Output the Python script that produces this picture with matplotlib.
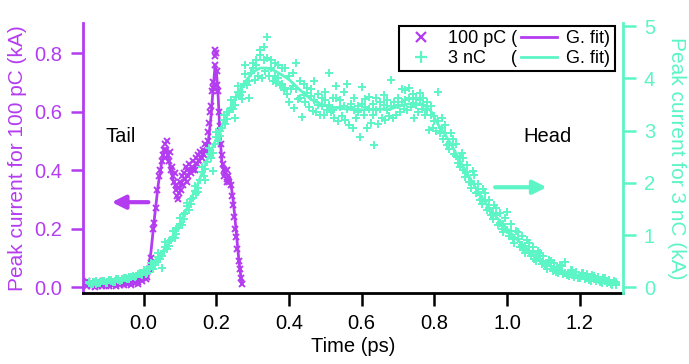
import matplotlib
matplotlib.use("Agg")
import matplotlib.pyplot as plt
from matplotlib.lines import Line2D

plt.rcParams['font.family'] = ['Liberation Sans', 'DejaVu Sans']

PURPLE = '#B43CF0'
GREEN = '#5CF5C5'

# ---------------- 100 pC data (left axis, kA) ----------------
p_x = [-0.155, -0.155, -0.155, -0.145, -0.145, -0.145, -0.135, -0.135, -0.135, -0.125,
       -0.125, -0.125, -0.115, -0.115, -0.115, -0.105, -0.105, -0.105, -0.095, -0.095,
       -0.095, -0.085, -0.085, -0.085, -0.075, -0.075, -0.075, -0.065, -0.065, -0.065,
       -0.055, -0.055, -0.055, -0.045, -0.045, -0.045, -0.035, -0.035, -0.035, -0.025,
       -0.025, -0.025, -0.015, -0.015, -0.015, -0.005, -0.005, -0.005, 0.005, 0.005,
       0.005, 0.010, 0.010,
       0.015, 0.020, 0.025, 0.028, 0.033, 0.038, 0.042, 0.046, 0.050, 0.053,
       0.056, 0.060, 0.062, 0.064, 0.066, 0.070, 0.072, 0.075, 0.078, 0.080,
       0.083, 0.085, 0.088, 0.090, 0.092, 0.095, 0.098, 0.100, 0.103, 0.106,
       0.108, 0.110, 0.113, 0.116, 0.118, 0.120, 0.123, 0.126, 0.130, 0.133,
       0.136, 0.140, 0.143, 0.146, 0.150, 0.153, 0.156, 0.160, 0.163, 0.166,
       0.170, 0.173, 0.176, 0.178, 0.180, 0.183, 0.185, 0.188, 0.190, 0.192,
       0.195, 0.197, 0.199, 0.201, 0.203, 0.205, 0.207, 0.210, 0.212, 0.215,
       0.217, 0.220, 0.222, 0.225, 0.228, 0.230, 0.233, 0.236, 0.240, 0.243,
       0.246, 0.249, 0.252, 0.255, 0.258, 0.261, 0.264, 0.267, 0.270,
       0.197, 0.058, 0.094, 0.228, 0.171, 0.137]
p_y = [0.004, 0.012, 0.020, 0.002, 0.010, 0.016, 0.006, 0.014, 0.000, 0.004,
       0.011, 0.019, 0.008, 0.015, 0.002, 0.005, 0.013, 0.021, 0.009, 0.017,
       0.003, 0.006, 0.014, 0.022, 0.010, 0.018, 0.004, 0.008, 0.016, 0.024,
       0.012, 0.020, 0.006, 0.010, 0.019, 0.027, 0.014, 0.022, 0.008, 0.013,
       0.024, 0.032, 0.018, 0.028, 0.010, 0.020, 0.032, 0.042, 0.028, 0.040,
       0.050, 0.035, 0.055,
       0.06, 0.10, 0.20, 0.22, 0.27, 0.33, 0.38, 0.40, 0.43, 0.45,
       0.47, 0.49, 0.47, 0.50, 0.45, 0.43, 0.46, 0.40, 0.41, 0.38,
       0.36, 0.39, 0.33, 0.35, 0.31, 0.34, 0.32, 0.36, 0.33, 0.38,
       0.35, 0.39, 0.37, 0.41, 0.36, 0.40, 0.38, 0.42, 0.39, 0.41,
       0.43, 0.40, 0.44, 0.42, 0.45, 0.43, 0.46, 0.44, 0.47, 0.45,
       0.49, 0.48, 0.53, 0.50, 0.56, 0.60, 0.62, 0.67, 0.68, 0.70,
       0.76, 0.81, 0.80, 0.74, 0.69, 0.67, 0.60, 0.55, 0.49, 0.45,
       0.42, 0.40, 0.38, 0.39, 0.37, 0.40, 0.38, 0.36, 0.35, 0.31,
       0.28, 0.24, 0.20, 0.17, 0.13, 0.09, 0.06, 0.03, 0.01,
       0.79, 0.44, 0.30, 0.36, 0.46, 0.40]

pf_x = [-0.155, -0.12, -0.08, -0.04, -0.01, 0.005, 0.013, 0.02, 0.03, 0.04,
        0.05, 0.056, 0.062, 0.068, 0.075, 0.082, 0.09, 0.098, 0.105, 0.112,
        0.12, 0.13, 0.14, 0.15, 0.16, 0.17, 0.178, 0.185, 0.19, 0.196,
        0.2, 0.205, 0.21, 0.215, 0.222, 0.23, 0.237, 0.245, 0.25, 0.256,
        0.262, 0.27]
pf_y = [0.005, 0.008, 0.012, 0.018, 0.03, 0.04, 0.06, 0.12, 0.24, 0.35,
        0.43, 0.46, 0.47, 0.44, 0.40, 0.36, 0.34, 0.34, 0.36, 0.37,
        0.38, 0.40, 0.41, 0.43, 0.45, 0.47, 0.50, 0.58, 0.66, 0.75,
        0.74, 0.65, 0.52, 0.43, 0.39, 0.385, 0.375, 0.31, 0.25, 0.17,
        0.09, 0.01]

# ---------------- 3 nC data (right axis, kA), three shots ----------------
g_xa = [-0.15, -0.14, -0.13, -0.12, -0.11, -0.10, -0.09, -0.08, -0.07, -0.06,
        -0.05, -0.04, -0.03, -0.02, -0.01,
        0.00, 0.01, 0.02, 0.03, 0.04, 0.05, 0.06, 0.07, 0.08, 0.09,
        0.10, 0.11, 0.12, 0.13, 0.14, 0.15, 0.16, 0.17, 0.18, 0.19,
        0.20, 0.21, 0.22, 0.23, 0.24, 0.25, 0.26, 0.27, 0.28, 0.29,
        0.30, 0.31, 0.32, 0.33, 0.34, 0.35, 0.36, 0.37, 0.38, 0.39,
        0.40, 0.41, 0.42, 0.43, 0.44, 0.45, 0.46, 0.47, 0.48, 0.49,
        0.50, 0.51, 0.52, 0.53, 0.54, 0.55, 0.56, 0.57, 0.58, 0.59,
        0.60, 0.61, 0.62, 0.63, 0.64, 0.65, 0.66, 0.67, 0.68, 0.69,
        0.70, 0.71, 0.72, 0.73, 0.74, 0.75, 0.76, 0.77, 0.78, 0.79,
        0.80,
        0.81, 0.82, 0.83, 0.84, 0.85, 0.86, 0.87, 0.88, 0.89, 0.90,
        0.91, 0.92, 0.93, 0.94, 0.95, 0.96, 0.97, 0.98, 0.99, 1.00,
        1.01, 1.02, 1.03, 1.04, 1.05, 1.06, 1.07, 1.08, 1.09, 1.10,
        1.11, 1.12, 1.13, 1.14, 1.15, 1.16, 1.17, 1.18, 1.19, 1.20,
        1.21, 1.22, 1.23, 1.24, 1.25, 1.26, 1.27, 1.28, 1.29, 1.30]
g_xb = [-0.145, -0.135, -0.125, -0.115, -0.105, -0.095, -0.085, -0.075, -0.065, -0.055,
        -0.045, -0.035, -0.025, -0.015, -0.005,
        0.005, 0.015, 0.025, 0.035, 0.045, 0.055, 0.065, 0.075, 0.085, 0.095,
        0.105, 0.115, 0.125, 0.135, 0.145, 0.155, 0.165, 0.175, 0.185, 0.195,
        0.205, 0.215, 0.225, 0.235, 0.245, 0.255, 0.265, 0.275, 0.285, 0.295,
        0.305, 0.315, 0.325, 0.335, 0.345, 0.355, 0.365, 0.375, 0.385, 0.395,
        0.405, 0.415, 0.425, 0.435, 0.445, 0.455, 0.465, 0.475, 0.485, 0.495,
        0.505, 0.515, 0.525, 0.535, 0.545, 0.555, 0.565, 0.575, 0.585, 0.595,
        0.605, 0.615, 0.625, 0.635, 0.645, 0.655, 0.665, 0.675, 0.685, 0.695,
        0.705, 0.715, 0.725, 0.735, 0.745, 0.755, 0.765, 0.775, 0.785, 0.795,
        0.805,
        0.815, 0.825, 0.835, 0.845, 0.855, 0.865, 0.875, 0.885, 0.895, 0.905,
        0.915, 0.925, 0.935, 0.945, 0.955, 0.965, 0.975, 0.985, 0.995, 1.005,
        1.015, 1.025, 1.035, 1.045, 1.055, 1.065, 1.075, 1.085, 1.095, 1.105,
        1.115, 1.125, 1.135, 1.145, 1.155, 1.165, 1.175, 1.185, 1.195, 1.205,
        1.215, 1.225, 1.235, 1.245, 1.255, 1.265, 1.275, 1.285, 1.295, 1.300]
g_shot1 = [0.10, 0.07, 0.12, 0.09, 0.13, 0.10, 0.14, 0.12, 0.16, 0.14,
           0.18, 0.16, 0.22, 0.21, 0.27,
           0.33, 0.28, 0.46, 0.42, 0.65, 0.60, 0.86, 0.80, 1.08, 1.02,
           1.33, 1.30, 1.62, 1.60, 1.95, 1.90, 2.30, 2.26, 2.66, 2.58,
           2.98, 2.90, 3.30, 3.22, 3.58, 3.50, 3.85, 3.75, 4.08, 3.95,
           4.30, 4.35, 4.45, 4.60, 4.40, 4.35, 4.30, 4.25, 3.90, 4.20,
           4.05, 4.10, 4.29, 3.95, 3.90, 3.72, 3.80, 3.95, 3.70, 3.62,
           3.75, 4.10, 3.62, 3.85, 3.58, 3.75, 3.90, 3.52, 3.62, 3.48,
           3.84, 3.60, 3.65, 3.52, 3.62, 3.55, 3.68, 3.58, 3.97, 3.55,
           3.62, 3.80, 3.78, 3.82, 3.70, 3.62, 3.72, 3.62, 3.55, 3.48,
           3.28,
           3.75, 3.25, 3.10, 2.65, 2.85, 2.75, 2.30, 2.48, 2.35, 1.90,
           2.15, 1.98, 1.60, 1.80, 1.68, 1.30, 1.52, 1.42, 1.05, 1.45,
           1.22, 0.85, 1.05, 0.98, 0.65, 0.85, 0.78, 0.50, 0.66, 0.60,
           0.36, 0.50, 0.46, 0.28, 0.40, 0.49, 0.22, 0.33, 0.30, 0.17,
           0.27, 0.25, 0.12, 0.22, 0.20, 0.09, 0.17, 0.14, 0.05, 0.10]
g_shot2 = [0.06, 0.11, 0.08, 0.12, 0.09, 0.14, 0.11, 0.15, 0.13, 0.17,
           0.15, 0.20, 0.19, 0.25, 0.24,
           0.25, 0.36, 0.35, 0.50, 0.54, 0.70, 0.74, 0.91, 0.95, 1.14,
           1.19, 1.42, 1.49, 1.72, 1.80, 2.05, 2.14, 2.40, 2.48, 2.74,
           2.80, 3.06, 3.12, 3.36, 3.42, 3.65, 3.68, 3.90, 3.88, 4.10,
           3.98, 4.05, 4.00, 4.15, 4.05, 3.95, 3.92, 3.88, 3.78, 3.70,
           3.80, 3.43, 3.60, 3.27, 3.55, 3.45, 3.38, 3.35, 3.30, 3.30,
           3.40, 3.35, 3.25, 3.18, 3.28, 3.20, 3.10, 3.05, 3.25, 2.88,
           3.30, 3.05, 3.15, 2.73, 3.12, 3.25, 3.20, 3.28, 3.25, 3.30,
           3.35, 3.42, 3.40, 3.45, 3.24, 3.35, 3.42, 3.30, 3.01, 3.05,
           3.00,
           2.95, 2.85, 2.72, 2.95, 2.55, 2.38, 2.58, 2.12, 2.02, 2.22,
           1.80, 1.68, 1.88, 1.48, 1.38, 1.58, 1.20, 1.12, 1.32, 0.98,
           0.92, 1.08, 0.78, 0.72, 0.90, 0.60, 0.55, 0.70, 0.44, 0.40,
           0.52, 0.32, 0.30, 0.42, 0.25, 0.23, 0.34, 0.20, 0.18, 0.28,
           0.15, 0.14, 0.23, 0.12, 0.10, 0.18, 0.08, 0.07, 0.13, 0.05]
g_shot3 = [0.09, 0.10, 0.07, 0.11, 0.12, 0.09, 0.13, 0.11, 0.14, 0.16,
           0.17, 0.19, 0.21, 0.22, 0.26,
           0.29, 0.34, 0.40, 0.46, 0.58, 0.37, 0.78, 0.88, 0.97, 1.12,
           1.22, 1.40, 1.55, 1.70, 1.85, 1.82, 2.20, 2.05, 2.55, 2.22,
           2.88, 3.00, 3.20, 3.35, 3.44, 3.25, 3.75, 3.60, 4.25, 3.62,
           4.20, 4.25, 4.55, 4.35, 4.80, 4.20, 4.05, 4.00, 4.20, 3.82,
           3.55, 3.85, 3.80, 3.62, 3.68, 3.82, 3.66, 3.58, 3.50, 3.48,
           3.58, 3.50, 3.40, 3.62, 3.45, 3.48, 3.42, 3.45, 3.40, 3.35,
           3.52, 3.45, 3.42, 3.30, 3.40, 3.42, 3.50, 3.40, 3.48, 3.55,
           3.50, 3.55, 3.58, 3.62, 3.60, 3.50, 3.58, 3.50, 3.40, 3.30,
           3.18,
           3.18, 3.05, 2.95, 2.75, 2.72, 2.52, 2.48, 2.25, 2.20, 2.02,
           1.98, 1.82, 1.70, 1.65, 1.52, 1.42, 1.38, 1.24, 1.22, 1.10,
           1.08, 0.95, 0.92, 0.82, 0.80, 0.70, 0.68, 0.60, 0.55, 0.50,
           0.45, 0.41, 0.38, 0.33, 0.32, 0.28, 0.28, 0.24, 0.24, 0.21,
           0.22, 0.18, 0.19, 0.15, 0.16, 0.12, 0.13, 0.10, 0.09, 0.06]

gf_x = [-0.155, -0.12, -0.08, -0.04, 0.0, 0.02, 0.05, 0.08, 0.1, 0.125,
        0.15, 0.175, 0.2, 0.225, 0.25, 0.275, 0.3, 0.32, 0.34, 0.36,
        0.38, 0.4, 0.43, 0.46, 0.49, 0.52, 0.55, 0.6, 0.65, 0.68,
        0.71, 0.74, 0.77, 0.79, 0.81, 0.83, 0.85, 0.88, 0.91, 0.94,
        0.97, 1.0, 1.03, 1.06, 1.09, 1.12, 1.15, 1.18, 1.21, 1.24,
        1.27, 1.3]
gf_y = [0.08, 0.10, 0.13, 0.18, 0.28, 0.38, 0.66, 0.98, 1.23, 1.6,
        2.0, 2.45, 2.85, 3.25, 3.6, 3.9, 4.12, 4.2, 4.2, 4.15,
        4.07, 3.98, 3.78, 3.6, 3.5, 3.45, 3.42, 3.40, 3.41, 3.42,
        3.48, 3.53, 3.50, 3.38, 3.12, 2.92, 2.69, 2.3, 1.95, 1.62,
        1.35, 1.12, 0.9, 0.71, 0.53, 0.40, 0.31, 0.25, 0.20, 0.16,
        0.11, 0.07]

x_ticks = [0.0, 0.2, 0.4, 0.6, 0.8, 1.0, 1.2]
left_ticks = [0.0, 0.2, 0.4, 0.6, 0.8]
right_ticks = [0, 1, 2, 3, 4, 5]

FS = 14.5
FSL = 15

fig = plt.figure(figsize=(6.89, 3.64), dpi=100)
ax = fig.add_axes([83 / 689, 1 - 293 / 364, (623 - 83) / 689, (293 - 23) / 364])
ax2 = ax.twinx()

mk = dict(linestyle='none', markersize=4.5, markeredgewidth=1.4)
ax.plot(p_x, p_y, marker='x', color=PURPLE, **mk)
ax.plot(pf_x, pf_y, color=PURPLE, lw=2.0)

mk2 = dict(linestyle='none', markersize=6, markeredgewidth=1.4, color=GREEN)
ax2.plot(g_xa, g_shot1, marker='+', **mk2)
ax2.plot(g_xb, g_shot2, marker='+', **mk2)
ax2.plot(g_xa, g_shot3, marker='+', **mk2)
ax2.plot(gf_x, gf_y, color=GREEN, lw=2.0)

ax.set_xlim(-0.167, 1.319)
ax.set_ylim(-0.0205, 0.9026)
ax2.set_ylim(-0.109, 5.063)

ax.set_xticks(x_ticks)
ax.set_xticklabels([f"{v:.1f}" for v in x_ticks])
ax.set_yticks(left_ticks)
ax.set_yticklabels([f"{v:.1f}" for v in left_ticks])
ax2.set_yticks(right_ticks)
ax2.set_yticklabels([str(v) for v in right_ticks])

for s in ['top', 'right']:
    ax.spines[s].set_visible(False)
for s in ['top', 'left', 'bottom']:
    ax2.spines[s].set_visible(False)
ax.spines['left'].set_color(PURPLE)
ax.spines['left'].set_linewidth(2)
ax.spines['bottom'].set_linewidth(2)
ax2.spines['right'].set_color(GREEN)
ax2.spines['right'].set_linewidth(2)

ax.tick_params(axis='x', colors='black', length=9, width=1.8, labelsize=FS, pad=6)
ax.tick_params(axis='y', colors=PURPLE, length=9, width=1.8, labelsize=FS, pad=6)
ax2.tick_params(axis='y', colors=GREEN, length=9, width=1.8, labelsize=FS, pad=6)

ax.set_xlabel('Time (ps)', fontsize=FS, labelpad=3)
ax.set_ylabel('Peak current for 100 pC (kA)', fontsize=FSL, color=PURPLE, labelpad=5)
ax2.set_ylabel('Peak current for 3 nC (kA)', fontsize=FSL, color=GREEN, rotation=270,
               labelpad=22)

ax.text(-0.062, 0.513, 'Tail', fontsize=FS, ha='center', va='center')
ax.text(1.112, 0.513, 'Head', fontsize=FS, ha='center', va='center')
ax.annotate('', xy=(-0.088, 0.29), xytext=(0.013, 0.29),
            arrowprops=dict(arrowstyle='-|>', color=PURPLE, lw=3, mutation_scale=20,
                            shrinkA=0, shrinkB=0))
ax.annotate('', xy=(1.109, 0.341), xytext=(0.967, 0.341),
            arrowprops=dict(arrowstyle='-|>', color=GREEN, lw=3, mutation_scale=20,
                            shrinkA=0, shrinkB=0))

handles = [Line2D([], [], marker='x', color=PURPLE, linestyle='none', markersize=7, markeredgewidth=1.6),
           Line2D([], [], marker='+', color=GREEN, linestyle='none', markersize=9, markeredgewidth=1.6),
           Line2D([], [], color=PURPLE, lw=2),
           Line2D([], [], color=GREEN, lw=2)]
labels = ['100 pC (', '3 nC\u2007\u2007 (', 'G. fit)', 'G. fit)']
leg = ax2.legend(handles, labels, ncol=2, loc='upper right', bbox_to_anchor=(0.985, 0.99),
                 fontsize=13, frameon=True, fancybox=False, framealpha=1,
                 edgecolor='black', handlelength=2.0, handletextpad=0.5,
                 columnspacing=0.2, labelspacing=0.15, borderpad=0.25, borderaxespad=0.0)
leg.get_frame().set_linewidth(1.5)

fig.savefig('out.png', dpi=100)
